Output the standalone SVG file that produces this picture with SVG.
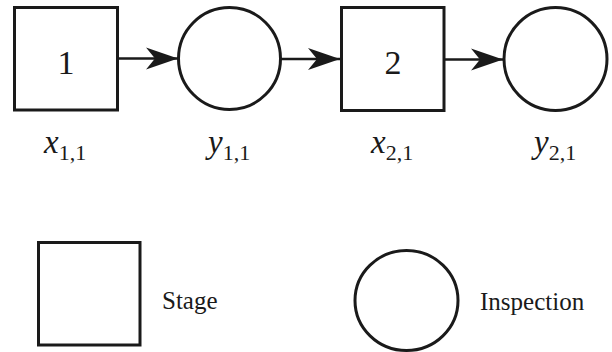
<svg xmlns="http://www.w3.org/2000/svg" width="612" height="352" viewBox="0 0 612 352">
<style>
.shape{fill:none;stroke:#1a1a1a;stroke-width:3}
.edge{fill:none;stroke:#1a1a1a;stroke-width:2.5}
text{font-family:"Liberation Serif","Times New Roman",serif;fill:#1a1a1a}
.num{font-size:34px}
.var{font-size:33px;font-style:italic}
.sub{font-size:22px;font-style:normal}
.leg{font-size:25px}
</style>
<defs>
<marker id="ah" markerUnits="userSpaceOnUse" markerWidth="34" markerHeight="26" viewBox="-33 -13 34 26" refX="0" refY="0" orient="auto">
<path d="M0,0 L-32,-11 L-23,0 L-32,11 Z" fill="#1a1a1a"/>
</marker>
</defs>
<rect width="612" height="352" fill="#ffffff"/>
<g id="connectors">
<line class="edge" x1="118" y1="58.5" x2="178" y2="58.5" marker-end="url(#ah)"/>
<line class="edge" x1="280.5" y1="59" x2="340" y2="59" marker-end="url(#ah)"/>
<line class="edge" x1="444" y1="59.5" x2="503" y2="59.5" marker-end="url(#ah)"/>
</g>
<g id="stage1">
<rect class="shape" x="14.5" y="7.5" width="103" height="102.5"/>
<text class="num" x="66" y="74" text-anchor="middle">1</text>
<text class="var" x="44" y="153">x<tspan class="sub" dy="7">1,1</tspan></text>
</g>
<g id="inspection1">
<circle class="shape" cx="229.5" cy="58.5" r="51"/>
<text class="var" x="208" y="153">y<tspan class="sub" dy="7">1,1</tspan></text>
</g>
<g id="stage2">
<rect class="shape" x="341.5" y="7.5" width="102.5" height="103"/>
<text class="num" x="393" y="74" text-anchor="middle">2</text>
<text class="var" x="371" y="153">x<tspan class="sub" dy="7">2,1</tspan></text>
</g>
<g id="inspection2">
<circle class="shape" cx="555.5" cy="59" r="51.5"/>
<text class="var" x="534" y="153">y<tspan class="sub" dy="7">2,1</tspan></text>
</g>
<g id="legend-stage">
<rect class="shape" x="38.5" y="242.5" width="101.5" height="102.5"/>
<text class="leg" x="162" y="309">Stage</text>
</g>
<g id="legend-inspection">
<ellipse class="shape" cx="406.5" cy="300.5" rx="51.5" ry="50"/>
<text class="leg" x="480" y="310">Inspection</text>
</g>
</svg>
